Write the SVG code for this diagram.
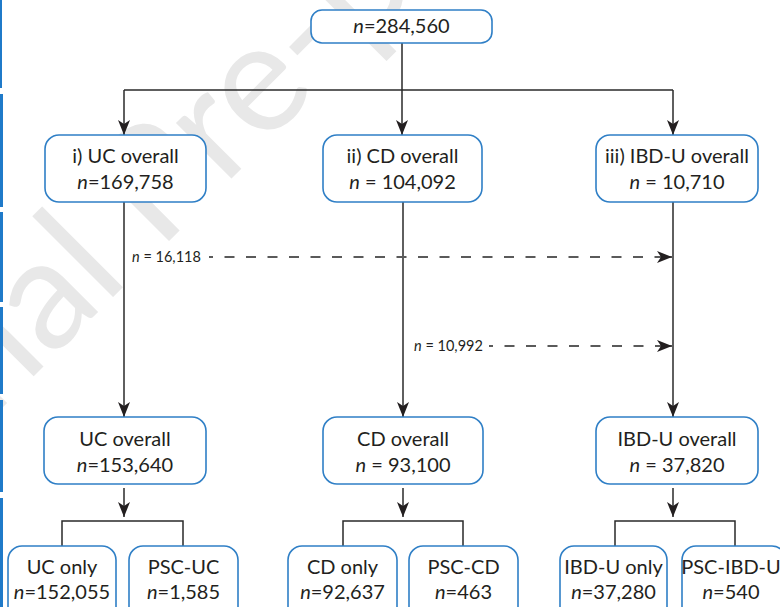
<svg xmlns="http://www.w3.org/2000/svg" width="780" height="607" viewBox="0 0 780 607">
<style>
.box{fill:#fff;stroke:#2f7fc6;stroke-width:1.6}
.t{font-family:Lato,"Open Sans","Liberation Sans",sans-serif;font-size:20px;fill:#231f20;text-anchor:middle}
.s{font-family:Lato,"Open Sans","Liberation Sans",sans-serif;font-size:14.5px;fill:#231f20}
.i{font-style:italic}
.ln{fill:none;stroke:#2a2a2a;stroke-width:1.5}
.dl{fill:none;stroke:#5a5a5a;stroke-width:2;stroke-dasharray:10 11.5}
.wm{font-family:Lato,"Liberation Sans",sans-serif;font-size:155px;fill:#e8e8e8}
.mg{fill:#1f7ac9}
</style>
<defs>
<marker id="ah" markerUnits="userSpaceOnUse" markerWidth="16" markerHeight="12" viewBox="0 0 16 12" refX="15" refY="6" orient="auto">
<path d="M0,0 L15,6 L0,12 L4,6 z" fill="#231f20"/>
</marker>
</defs>
<rect width="780" height="607" fill="#fff"/>
<text class="wm" transform="translate(-218,628) rotate(-45)">Journal Pre-proof</text>
<g id="margin">
<rect class="mg" x="0" y="0" width="2" height="88"/>
<rect class="mg" x="0" y="94" width="3" height="113"/>
<rect class="mg" x="0" y="212" width="3" height="90"/>
<rect class="mg" x="0" y="307" width="3" height="87"/>
<rect class="mg" x="0" y="400" width="3" height="92"/>
<rect class="mg" x="0" y="498" width="3" height="109"/>
</g>
<g id="connectors">
<path class="ln" d="M402,43 V90 M124,90 H673"/>
<path class="ln" d="M124,90 V135" marker-end="url(#ah)"/>
<path class="ln" d="M402,90 V135" marker-end="url(#ah)"/>
<path class="ln" d="M673,90 V135" marker-end="url(#ah)"/>
<path class="ln" d="M124,202 V417" marker-end="url(#ah)"/>
<path class="ln" d="M403,202 V417" marker-end="url(#ah)"/>
<path class="ln" d="M673,202 V417" marker-end="url(#ah)"/>
<path class="dl" d="M209,257 H660" stroke-dashoffset="6"/>
<path d="M657,257 L672,257" stroke="#5a5a5a" stroke-width="2" marker-end="url(#ah)"/>
<path class="dl" d="M489,346 H660" stroke-dashoffset="6"/>
<path d="M657,346 L672,346" stroke="#5a5a5a" stroke-width="2" marker-end="url(#ah)"/>
<text class="s" x="132" y="262"><tspan class="i">n</tspan> = 16,118</text>
<text class="s" x="414" y="351"><tspan class="i">n</tspan> = 10,992</text>
<path class="ln" d="M124,488 V517" marker-end="url(#ah)"/>
<path class="ln" d="M62,546 V521 H183 V546"/>
<path class="ln" d="M403,488 V517" marker-end="url(#ah)"/>
<path class="ln" d="M343,546 V521 H463 V546"/>
<path class="ln" d="M673,488 V517" marker-end="url(#ah)"/>
<path class="ln" d="M615,546 V521 H735 V546"/>
</g>
<g id="top">
<rect class="box" x="311" y="10" width="181" height="33" rx="11"/>
<text class="t" x="401.5" y="33"><tspan class="i">n</tspan>=284,560</text>
</g>
<g id="uc1">
<rect class="box" x="45" y="135" width="161" height="67" rx="14"/>
<text class="t" x="125.5" y="163">i) UC overall</text>
<text class="t" x="125.5" y="189"><tspan class="i">n</tspan>=169,758</text>
</g>
<g id="cd1">
<rect class="box" x="323" y="135" width="159" height="67" rx="14"/>
<text class="t" x="402.5" y="163">ii) CD overall</text>
<text class="t" x="402.5" y="189"><tspan class="i">n</tspan> = 104,092</text>
</g>
<g id="ibd1">
<rect class="box" x="596" y="135" width="162" height="67" rx="14"/>
<text class="t" x="677" y="163">iii) IBD-U overall</text>
<text class="t" x="677" y="189"><tspan class="i">n</tspan> = 10,710</text>
</g>
<g id="uc2">
<rect class="box" x="44" y="417" width="162" height="67" rx="14"/>
<text class="t" x="125" y="446">UC overall</text>
<text class="t" x="125" y="472"><tspan class="i">n</tspan>=153,640</text>
</g>
<g id="cd2">
<rect class="box" x="323" y="417" width="160" height="67" rx="14"/>
<text class="t" x="403" y="446">CD overall</text>
<text class="t" x="403" y="472"><tspan class="i">n</tspan> = 93,100</text>
</g>
<g id="ibd2">
<rect class="box" x="596" y="417" width="162" height="67" rx="14"/>
<text class="t" x="677" y="446">IBD-U overall</text>
<text class="t" x="677" y="472"><tspan class="i">n</tspan> = 37,820</text>
</g>
<g id="uconly">
<rect class="box" x="8" y="546" width="108" height="80" rx="14"/>
<text class="t" x="62" y="574">UC only</text>
<text class="t" x="62" y="599"><tspan class="i">n</tspan>=152,055</text>
</g>
<g id="pscuc">
<rect class="box" x="129" y="546" width="109" height="80" rx="14"/>
<text class="t" x="183.5" y="574">PSC-UC</text>
<text class="t" x="183.5" y="599"><tspan class="i">n</tspan>=1,585</text>
</g>
<g id="cdonly">
<rect class="box" x="288" y="546" width="109" height="80" rx="14"/>
<text class="t" x="342.5" y="574">CD only</text>
<text class="t" x="342.5" y="599"><tspan class="i">n</tspan>=92,637</text>
</g>
<g id="psccd">
<rect class="box" x="409" y="546" width="109" height="80" rx="14"/>
<text class="t" x="463.5" y="574">PSC-CD</text>
<text class="t" x="463.5" y="599"><tspan class="i">n</tspan>=463</text>
</g>
<g id="ibdonly">
<rect class="box" x="560" y="546" width="107" height="80" rx="14"/>
<text class="t" x="613.5" y="574">IBD-U only</text>
<text class="t" x="613.5" y="599"><tspan class="i">n</tspan>=37,280</text>
</g>
<g id="pscibd">
<rect class="box" x="682" y="546" width="104" height="80" rx="14"/>
<text class="t" x="731" y="574" font-size="19.5">PSC-IBD-U</text>
<text class="t" x="731" y="599"><tspan class="i">n</tspan>=540</text>
</g>
</svg>
